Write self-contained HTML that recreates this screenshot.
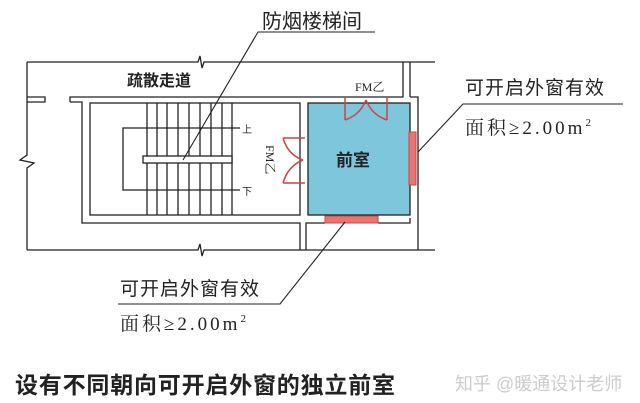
<!DOCTYPE html>
<html><head><meta charset="utf-8"><style>
body{margin:0;width:640px;height:403px;background:#fff;overflow:hidden}
svg{display:block}
text{font-family:"Liberation Sans","Noto Sans CJK SC",sans-serif;fill:#222}
.s{font-family:"Liberation Serif","Noto Serif CJK SC",serif}
</style></head><body>
<svg width="640" height="403" viewBox="0 0 640 403">
<g stroke="#222" stroke-width="1.3" fill="none">
<polyline points="27,62 198,62 200,56 202,68 204,62 435,62"/>
<polyline points="27,62 27,155 20,160 34,163 27,168 27,250"/>
<polyline points="27,250 198,250 200,244 202,256 204,250 435,250"/>
<polyline points="27,97 45,97 45,102 27,102"/>
<polyline points="70,102 70,97 403,97 403,62"/>
<polyline points="410,62 410,97"/>
<polyline points="70,102 82,102 82,223 300,223 300,250"/>
<polyline points="306,250 306,223 325,223"/>
<polyline points="378,223 410,223 410,218"/>
<polyline points="410,97 418,97 418,250"/>
<rect x="90" y="103" width="210" height="112"/>
<line x1="147" y1="103" x2="147" y2="215"/><line x1="157" y1="103" x2="157" y2="215"/>
<line x1="167" y1="103" x2="167" y2="215"/><line x1="178" y1="103" x2="178" y2="215"/>
<line x1="189" y1="103" x2="189" y2="215"/><line x1="200" y1="103" x2="200" y2="215"/>
<line x1="211" y1="103" x2="211" y2="215"/><line x1="222" y1="103" x2="222" y2="215"/>
<line x1="232" y1="103" x2="232" y2="215"/>
<polyline points="240,128 123,128 123,190 240,190"/>
</g>
<rect x="143" y="156" width="89" height="7" fill="#fff" stroke="#222" stroke-width="1.3"/>
<rect x="308" y="103" width="102" height="112" fill="#7ec6dc" stroke="#222" stroke-width="1.3"/>
<rect x="409" y="132" width="7" height="53" fill="#e8766e" stroke="#c44" stroke-width="1"/>
<rect x="325" y="216" width="53" height="7" fill="#e8766e" stroke="#c44" stroke-width="1"/>
<g stroke="#c44" stroke-width="1.5" fill="none">
<line x1="345" y1="97" x2="345" y2="120"/><line x1="387" y1="97" x2="387" y2="120"/>
<path d="M345,120 Q360,115 366,100"/><path d="M387,120 Q372,115 366,100"/>
<line x1="283" y1="138" x2="305" y2="138"/><line x1="283" y1="183" x2="305" y2="183"/>
<path d="M283,138 Q288,155 303,160"/><path d="M283,183 Q288,166 303,160"/>
</g>
<g stroke="#222" stroke-width="1.1" fill="none">
<polyline points="375,32 258,32 183,160"/>
<polyline points="623,104 463,104 418,152"/>
<polyline points="118,304 280,304 345,222"/>
</g>
<text x="262" y="28" font-size="20">防烟楼梯间</text>
<text x="127" y="86" font-size="16" font-weight="bold">疏散走道</text>
<text x="355" y="91" font-size="12" class="s">FM乙</text>
<text transform="translate(266,145) rotate(90)" font-size="12" class="s">FM乙</text>
<text x="242" y="133" font-size="10">上</text>
<text x="242" y="195" font-size="10">下</text>
<text x="336" y="166" font-size="17" font-weight="bold">前室</text>
<text x="465" y="94" font-size="19" letter-spacing="1">可开启外窗有效</text>
<text x="465" y="134" font-size="19" class="s" letter-spacing="3">面积≥2.00m<tspan font-size="11" dy="-8">2</tspan></text>
<text x="120" y="295" font-size="19" letter-spacing="1">可开启外窗有效</text>
<text x="120" y="330" font-size="19" class="s" letter-spacing="3">面积≥2.00m<tspan font-size="11" dy="-8">2</tspan></text>
<text x="15" y="393" font-size="23" font-weight="bold" letter-spacing="0.8">设有不同朝向可开启外窗的独立前室</text>
<text x="455" y="390" font-size="18" style="fill:#ccc">知乎 @暖通设计老师</text>
</svg>
</body></html>
